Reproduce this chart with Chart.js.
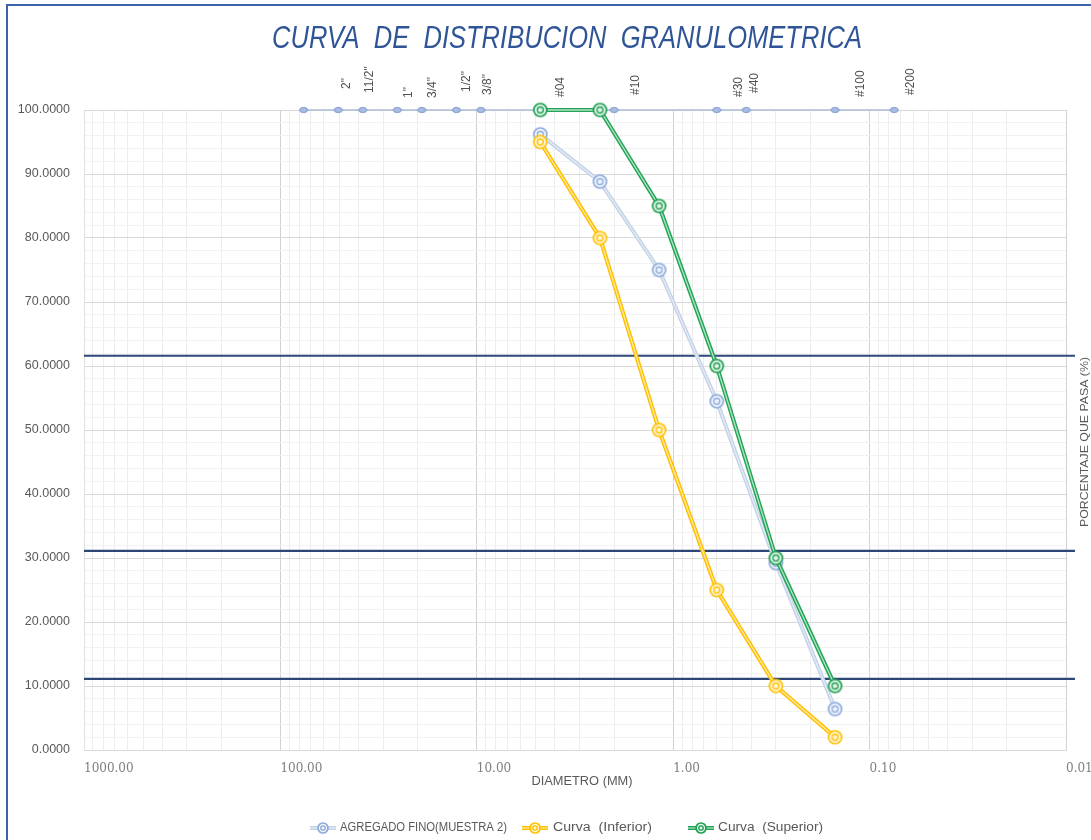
<!DOCTYPE html>
<html>
<head>
<meta charset="utf-8">
<script src="https://cdn.jsdelivr.net/npm/chart.js@4.4.1/dist/chart.umd.min.js"></script>
<style>
html,body{margin:0;padding:0;background:#fff;}
#wrap{width:1091px;height:840px;position:relative;overflow:hidden;}
canvas{display:block;}
</style>
</head>
<body>
<div id="wrap"><canvas id="c" width="1091" height="840"></canvas></div>
<script>
// ---------- DATA ----------
const chartTitle = 'CURVA  DE  DISTRIBUCION  GRANULOMETRICA';
const xAxisTitle = 'DIAMETRO (MM)';
const yAxisTitle = 'PORCENTAJE QUE PASA (%)';
const seriesNames = ['AGREGADO FINO(MUESTRA 2)', 'Curva  (Inferior)', 'Curva  (Superior)'];

// sieve openings (mm) shown as markers along 100 %
const sieveSizes  = [76.2, 50.8, 38.1, 25.4, 19.05, 12.7, 9.525, 4.75, 2.36, 2.00, 0.600, 0.425, 0.150, 0.075];
const sieveLabels = ['', '2"', '11/2"', '1"', '3/4"', '1/2"', '3/8"', '#04', '', '#10', '#30', '#40', '#100', '#200'];
const sieveLevel  = 100;

// grading curves
const gradDiam  = [4.75, 2.36, 1.18, 0.600, 0.300, 0.150];
const agregado  = [96.2, 88.8, 75.0, 54.5, 29.2, 6.4];
const inferior  = [95, 80, 50, 25, 10, 2];
const superior  = [100, 100, 85, 60, 30, 10];

// horizontal reference lines (D60, D30, D10 levels)
const refLevels = [61.6, 31.1, 11.1];
const refSpan   = [1000, 0.009];

// axis ticks
const xDecades = [0.01, 0.1, 1, 10, 100, 1000];
const yMajorStep = 10, yMinorStep = 2, yMin = 0, yMax = 100;

// ---------- LAYOUT / STYLE (not data) ----------
// per-label offset from its marker pixel [dx, text start y]
const sieveLabelLayout = [[0,0],[9,89],[7,93],[11,98],[11,98],[10,92],[7,95],[20,97],[0,0],[22,95],[22,97],[9,93],[26,97],[17,95]];

const COL = {
  blueRing:'#8eaadb', blueFill:'#f1f5fb', blueLine:'#c4d2e8', blueInner:'#e6edf7',
  yelRing:'#ffc000', yelFill:'#fff6d8', yelLine:'#ffc000', yelInner:'#ffe9a6',
  grnRing:'#1f9f52', grnFill:'#e3f4e9', grnLine:'#22a556', grnInner:'#b5e3c6',
  navy:'#2d4878', sieveLine:'#aebcd6'
};

function ringMarker(r, ring, fill, innerR) {
  const c = document.createElement('canvas');
  const s = Math.ceil(2 * r + 4);
  c.width = c.height = s;
  const g = c.getContext('2d');
  const m = s / 2;
  g.beginPath(); g.arc(m, m, r, 0, Math.PI * 2);
  g.fillStyle = fill; g.fill();
  g.lineWidth = 1.7; g.strokeStyle = ring; g.stroke();
  g.beginPath(); g.arc(m, m, innerR, 0, Math.PI * 2);
  g.lineWidth = 1.3; g.stroke();
  return c;
}
function ellipseMarker() {
  const c = document.createElement('canvas');
  c.width = 11; c.height = 8;
  const g = c.getContext('2d');
  g.beginPath(); g.ellipse(5.5, 4, 4, 2.6, 0, 0, Math.PI * 2);
  g.fillStyle = '#a9bce2'; g.fill();
  g.lineWidth = 1; g.strokeStyle = '#7d98cf'; g.stroke();
  return c;
}
const mkBlue = ringMarker(6.5, COL.blueRing, COL.blueFill, 3);
const mkYel  = ringMarker(6.5, COL.yelRing, COL.yelFill, 3);
const mkGrn  = ringMarker(6.5, COL.grnRing, COL.grnFill, 3);
const mkBlueS = ringMarker(5, COL.blueRing, COL.blueFill, 2.2);
const mkYelS  = ringMarker(5, COL.yelRing, COL.yelFill, 2.2);
const mkGrnS  = ringMarker(5, COL.grnRing, COL.grnFill, 2.2);
const mkSieve = ellipseMarker();

const pts = (xs, ys) => xs.map((x, i) => ({x: x, y: ys[i]}));
const sievePts = sieveSizes.map(d => ({x: d, y: sieveLevel}));

function isDecade(v) {
  const l = Math.log10(v);
  return Math.abs(l - Math.round(l)) < 1e-9;
}
const xTickValues = [];
for (let e = -2; e <= 2; e++) {
  for (let m = 1; m <= 9; m++) xTickValues.push(Number((m * Math.pow(10, e)).toPrecision(12)));
}
xTickValues.push(1000);
const yTickValues = [];
for (let v = yMin; v <= yMax; v += yMinorStep) yTickValues.push(v);

const datasets = [];
refLevels.forEach(lv => datasets.push({
  data: [{x: refSpan[0], y: lv}, {x: refSpan[1], y: lv}],
  borderColor: COL.navy, borderWidth: 2.2, pointRadius: 0, clip: false, order: 10
}));
datasets.push({
  data: sievePts, borderColor: COL.sieveLine, borderWidth: 1.5,
  pointStyle: mkSieve, pointRadius: 4, order: 9, clip: false
});
// agregado (double line)
datasets.push({data: pts(gradDiam, agregado), borderColor: COL.blueLine, borderWidth: 4, pointRadius: 0, order: 8, clip: false});
datasets.push({data: pts(gradDiam, agregado), borderColor: COL.blueInner, borderWidth: 1.2, pointStyle: mkBlue, pointRadius: 6.5, order: 7, clip: false});
// inferior
datasets.push({data: pts(gradDiam, inferior), borderColor: COL.yelLine, borderWidth: 4.2, pointRadius: 0, order: 6, clip: false});
datasets.push({data: pts(gradDiam, inferior), borderColor: COL.yelInner, borderWidth: 1.3, pointStyle: mkYel, pointRadius: 6.5, order: 5, clip: false});
// superior
datasets.push({data: pts(gradDiam, superior), borderColor: COL.grnLine, borderWidth: 4.2, pointRadius: 0, order: 4, clip: false});
datasets.push({data: pts(gradDiam, superior), borderColor: COL.grnInner, borderWidth: 1.3, pointStyle: mkGrn, pointRadius: 6.5, order: 3, clip: false});

function fitText(g, text, x, y, targetW, font, align) {
  g.font = font;
  const w = g.measureText(text).width;
  const s = targetW / w;
  g.save();
  g.translate(x, y);
  g.scale(s, 1);
  g.textAlign = align;
  g.fillText(text, 0, 0);
  g.restore();
}

const decor = {
  id: 'decor',
  beforeDraw(chart) {
    const g = chart.ctx;
    g.save();
    g.fillStyle = '#ffffff';
    g.fillRect(0, 0, chart.width, chart.height);
    g.strokeStyle = '#3c62ac';
    g.lineWidth = 2;
    g.beginPath();
    g.moveTo(7, 840); g.lineTo(7, 5); g.lineTo(1091, 5);
    g.stroke();
    g.restore();
  },
  afterDraw(chart) {
    const g = chart.ctx;
    const xs = chart.scales.x;
    g.save();
    // title
    g.fillStyle = '#2f5597';
    g.textBaseline = 'middle';
    fitText(g, chartTitle, 272, 39, 590, 'italic 32px "Liberation Sans", sans-serif', 'left');
    // sieve labels
    g.fillStyle = '#505050';
    g.font = '12px "Liberation Sans", sans-serif';
    g.textAlign = 'left';
    g.textBaseline = 'middle';
    sieveSizes.forEach((d, i) => {
      const t = sieveLabels[i];
      if (!t) return;
      const px = xs.getPixelForValue(d) + sieveLabelLayout[i][0];
      g.save();
      g.translate(px, sieveLabelLayout[i][1]);
      g.rotate(-Math.PI / 2);
      g.fillText(t, 0, 0);
      g.restore();
    });
    // x axis title
    g.fillStyle = '#595959';
    g.textBaseline = 'middle';
    fitText(g, xAxisTitle, 582, 782, 101, '12px "Liberation Sans", sans-serif', 'center');
    // right axis title
    g.save();
    g.translate(1085, 442);
    g.rotate(-Math.PI / 2);
    fitText(g, yAxisTitle, 0, 0, 170, '11px "Liberation Sans", sans-serif', 'center');
    g.restore();
    // legend
    const items = [
      {x: 310, tx: 340, tw: 167, line: COL.blueLine, inner: COL.blueInner, mk: mkBlueS, name: seriesNames[0]},
      {x: 522, tx: 553, tw: 99, line: COL.yelLine, inner: COL.yelInner, mk: mkYelS, name: seriesNames[1]},
      {x: 688, tx: 718, tw: 105, line: COL.grnLine, inner: COL.grnInner, mk: mkGrnS, name: seriesNames[2]}
    ];
    const ly = 828;
    items.forEach(it => {
      g.lineWidth = 4; g.strokeStyle = it.line;
      g.beginPath(); g.moveTo(it.x, ly); g.lineTo(it.x + 26, ly); g.stroke();
      g.lineWidth = 1.2; g.strokeStyle = it.inner;
      g.beginPath(); g.moveTo(it.x, ly); g.lineTo(it.x + 26, ly); g.stroke();
      g.drawImage(it.mk, it.x + 13 - it.mk.width / 2, ly - it.mk.height / 2);
      g.fillStyle = '#595959';
      fitText(g, it.name, it.tx, ly, it.tw, '12px "Liberation Sans", sans-serif', 'left');
    });
    g.restore();
  }
};

new Chart(document.getElementById('c'), {
  type: 'line',
  data: {datasets: datasets},
  options: {
    responsive: false,
    animation: false,
    devicePixelRatio: 1,
    parsing: true,
    layout: {padding: {top: 110, right: 25, bottom: 0, left: 0}},
    plugins: {legend: {display: false}, tooltip: {enabled: false}, title: {display: false}},
    elements: {line: {tension: 0}},
    scales: {
      x: {
        type: 'logarithmic',
        reverse: true,
        min: xDecades[0],
        max: xDecades[xDecades.length - 1],
        position: 'bottom',
        border: {display: true, color: '#d9d9d9'},
        grid: {
          drawTicks: false,
          color: c => isDecade(c.tick.value) ? '#d2d2d2' : '#ededed',
          lineWidth: 1
        },
        ticks: {
          autoSkip: false, maxRotation: 0, minRotation: 0, align: 'start', padding: 12,
          color: '#7f7f7f',
          font: {family: '"DejaVu Serif", serif', size: 12},
          callback: v => isDecade(v) ? Number(v).toFixed(2) : ''
        },
        afterBuildTicks: s => { s.ticks = xTickValues.map(v => ({value: v})); },
        afterFit: s => { s.height = 90; s.paddingLeft = 0; s.paddingRight = 0; }
      },
      y: {
        type: 'linear',
        min: yMin, max: yMax,
        border: {display: true, color: '#e0e0e0'},
        grid: {
          drawTicks: false,
          color: c => (c.tick.value % yMajorStep === 0) ? '#d9d9d9' : '#f2f2f2',
          lineWidth: 1
        },
        ticks: {
          autoSkip: false, padding: 14, color: '#595959',
          font: {family: '"Liberation Sans", sans-serif', size: 12.5},
          callback: v => (v % yMajorStep === 0) ? Number(v).toFixed(4) : ''
        },
        afterBuildTicks: s => { s.ticks = yTickValues.map(v => ({value: v})); },
        afterFit: s => { s.width = 84; }
      }
    }
  },
  plugins: [decor]
});
</script>
</body>
</html>
